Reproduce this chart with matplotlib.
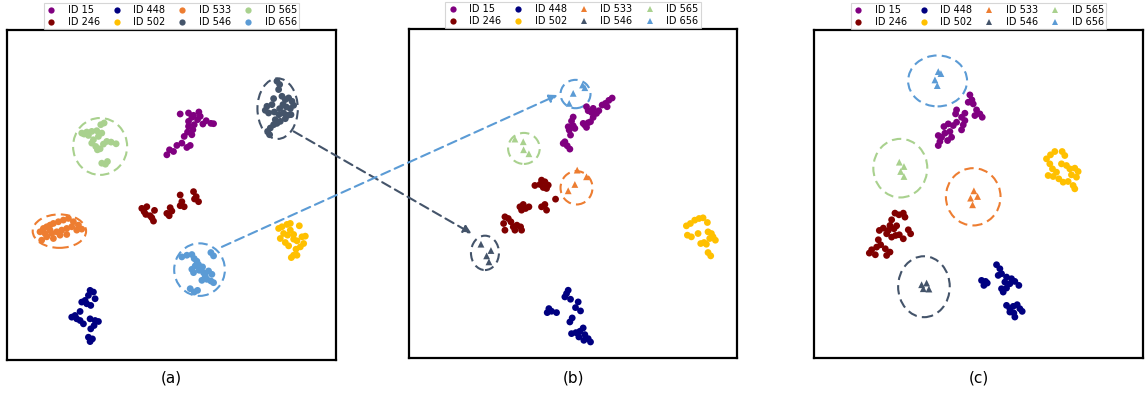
import numpy as np
import matplotlib
matplotlib.use("Agg")
import matplotlib.pyplot as plt
from matplotlib.patches import Ellipse, ConnectionPatch
from matplotlib.lines import Line2D

ids = ['ID 15', 'ID 246', 'ID 448', 'ID 502', 'ID 533', 'ID 546', 'ID 565', 'ID 656']
colors = {'ID 15': '#800080', 'ID 246': '#800000', 'ID 448': '#000080', 'ID 502': '#FFC000',
          'ID 533': '#ED7D31', 'ID 546': '#44546A', 'ID 565': '#A9D18E', 'ID 656': '#5B9BD5'}
# groups drawn as triangles in (b) and (c)
tri_ids = ['ID 533', 'ID 546', 'ID 565', 'ID 656']

# ---- panel (a) ----
a_15 = [(50.0,61.3),(50.8,62.8),(52.0,62.3),(53.0,64.1),(54.5,64.8),(56.0,63.5),(57.0,64.1),(55.2,66.8),
        (56.2,68.1),(57.5,67.3),(57.8,68.8),(56.5,69.8),(58.2,70.3),(56.5,71.3),(57.5,72.5),(59.2,71.8),
        (60.8,70.5),(61.8,71.5),(63.2,70.7),(64.0,70.6),(54.0,73.5),(56.5,73.8),(58.0,73.1),(59.6,74.1),(60.0,72.8)]
a_565 = [(24.5,67.8),(26.0,68.1),(27.5,68.3),(29.0,68.5),(30.2,70.3),(31.2,70.8),(30.5,67.8),(29.5,66.8),
         (28.0,65.8),(27.5,64.8),(28.7,63.8),(30.0,63.1),(31.0,64.5),(32.0,65.3),(33.3,65.1),(34.8,64.6),
         (29.2,62.8),(30.5,58.8),(31.6,58.5),(32.2,59.3),(26.5,67.1),(25.2,67.5)]
a_533 = [(12.0,38.3),(13.0,39.3),(14.0,39.8),(15.0,40.3),(16.0,40.8),(17.5,41.3),(19.0,41.8),(20.5,42.3),
         (22.0,41.3),(23.5,40.3),(24.5,39.1),(23.0,38.8),(21.5,39.8),(20.0,39.3),(18.5,38.8),(17.0,38.3),
         (15.5,37.8),(14.0,36.8),(12.5,35.8),(16.0,36.3),(18.0,37.3),(20.0,37.5),(13.5,37.8),(15.0,38.8)]
a_246 = [(42.5,45.3),(43.2,44.3),(44.0,45.8),(43.7,43.5),(45.0,43.1),(46.0,41.5),(45.5,42.5),(46.3,44.7),
         (50.0,43.8),(51.0,45.5),(50.7,43.1),(51.5,44.5),(54.0,46.1),(54.5,47.3),(55.2,45.8),(54.0,49.3),
         (58.0,50.3),(58.8,48.8),(59.5,47.3),(58.3,48.1)]
a_448 = [(27.0,20.8),(28.0,20.3),(26.5,19.3),(25.5,17.8),(24.5,17.3),(26.0,16.8),(27.2,16.3),(24.0,14.5),
         (22.5,13.3),(21.5,12.8),(23.0,12.3),(24.0,11.8),(25.0,10.8),(27.0,12.3),(28.5,11.8),(29.5,11.5),
         (28.2,10.3),(27.2,9.3),(26.5,6.8),(27.7,6.3),(27.0,5.5),(28.5,18.3)]
a_656 = [(54.5,30.8),(56.0,31.3),(57.5,31.5),(58.2,30.3),(59.0,29.5),(59.5,28.5),(58.5,28.1),(57.5,27.1),
         (58.0,26.1),(59.7,26.8),(60.7,27.8),(61.0,26.1),(61.5,25.1),(62.0,24.1),(63.2,23.6),(64.0,23.1),
         (63.5,25.6),(62.5,26.6),(63.2,32.1),(64.0,31.1),(57.0,21.3),(58.2,20.3),(59.2,20.8),(60.5,23.8)]
a_502 = [(83.5,39.3),(84.5,39.8),(86.0,40.5),(87.0,40.8),(89.7,40.1),(85.0,37.8),(84.0,36.3),(85.5,35.1),
         (86.5,34.1),(88.0,36.1),(89.0,35.6),(90.5,36.8),(91.5,37.0),(91.0,34.8),(90.0,33.8),(88.7,33.1),
         (88.0,31.3),(87.3,30.6),(89.0,31.3),(86.2,37.3),(87.0,38.8),(88.0,37.5)]
a_546 = [(83.0,83.3),(83.8,82.3),(83.5,80.8),(82.0,78.1),(84.5,78.8),(85.5,77.8),(86.5,78.3),(87.5,77.3),
         (88.0,76.1),(87.0,75.1),(85.8,75.6),(84.8,76.3),(83.8,75.1),(81.5,76.3),(80.0,75.8),(79.5,74.6),
         (80.5,73.8),(82.2,74.1),(83.6,73.3),(85.0,73.8),(86.2,73.1),(87.2,73.3),(85.5,72.1),(84.0,71.3),
         (83.0,70.7),(82.0,70.3),(81.0,69.3),(80.2,68.3),(80.8,67.3),(82.5,71.8)]
# dashed rings: group, center, width, height
a_rings = [('ID 565', (30.0,63.8), 16.2, 17.0), ('ID 533', (17.8,38.5), 16.0, 10.0),
           ('ID 656', (59.8,27.0), 15.2, 15.7), ('ID 546', (83.2,75.1), 12.1, 18.1)]

# ---- panel (b) ----
b_656 = [(50.5,79.3),(53.3,81.8),(54.0,81.0),(49.3,76.3)]
b_15 = [(47.5,64.3),(48.7,63.6),(49.5,62.6),(48.0,64.8),(49.7,66.8),(49.3,68.3),(50.5,69.6),(50.0,71.0),
        (49.0,69.3),(51.0,68.8),(50.5,72.2),(54.0,69.8),(55.0,70.5),(54.5,69.1),(55.7,70.8),(54.5,75.3),
        (55.0,74.1),(56.0,73.6),(56.5,74.8),(57.5,73.3),(58.2,74.1),(59.2,75.8),(60.2,76.3),(61.2,77.2),
        (62.2,77.9),(60.7,75.3),(56.5,72.1),(53.5,70.3)]
b_565 = [(33.0,65.6),(35.5,64.8),(35.6,62.4),(37.2,61.2)]
b_533 = [(51.7,56.3),(54.5,54.3),(51.0,52.0),(49.0,50.1)]
b_246 = [(39.0,51.7),(40.5,52.0),(41.0,53.3),(42.0,52.8),(43.0,51.8),(42.5,50.8),(41.5,51.1),(45.2,47.6),
         (34.5,45.3),(35.5,46.0),(36.2,44.8),(37.2,45.3),(35.0,44.3),(41.0,45.3),(42.0,46.0),(42.5,44.3),
         (30.0,42.3),(31.0,41.8),(29.6,40.3),(31.8,40.8),(32.5,39.3),(33.6,39.8),(34.7,39.3),(35.0,38.3),
         (33.0,38.3),(30.0,38.3)]
b_546 = [(22.8,34.1),(25.8,32.2),(24.5,30.6),(25.2,28.8)]
b_502 = [(84.5,39.6),(85.7,40.3),(87.0,41.3),(88.3,41.8),(89.5,42.0),(90.8,40.6),(84.8,36.8),(86.0,36.3),
         (88.0,37.3),(91.0,37.8),(92.0,37.3),(92.5,36.3),(93.2,35.3),(91.5,35.8),(89.8,34.6),(88.8,34.3),
         (90.5,34.1),(91.0,31.6),(91.8,30.6)]
b_448 = [(49.0,20.3),(48.5,19.3),(48.0,18.3),(49.7,17.6),(52.0,16.8),(51.2,15.1),(52.7,14.1),(50.2,12.0),
         (49.5,10.8),(43.2,14.8),(42.7,13.6),(44.0,14.0),(45.5,13.6),(50.0,7.3),(51.3,7.6),(52.5,8.0),
         (53.5,9.0),(54.0,7.0),(55.0,5.8),(55.7,4.8),(53.7,5.3),(52.2,6.3)]
b_rings = [('ID 656', (51.2,79.1), 9.0, 8.5), ('ID 565', (35.7,62.8), 9.5, 9.3),
           ('ID 533', (51.5,51.0), 9.6, 10.0), ('ID 546', (24.0,31.5), 8.4, 10.3)]

# ---- panel (c) ----
c_656 = [(38.5,86.0),(39.3,85.4),(37.5,83.5),(38.2,81.8)]
c_15 = [(48.0,79.0),(48.6,77.5),(47.5,76.8),(50.0,74.5),(51.0,73.3),(51.7,72.3),(49.5,72.8),(46.5,73.5),
        (45.5,72.3),(46.5,71.3),(46.0,70.0),(45.5,68.5),(44.0,74.5),(43.7,73.3),(44.0,70.8),(43.0,69.8),
        (41.5,70.3),(40.2,69.5),(38.5,66.8),(39.5,66.3),(40.5,67.5),(42.0,68.0),(42.5,66.3),(41.3,65.3),
        (38.5,63.8),(39.0,65.0),(49.0,76.3)]
c_565 = [(26.8,58.8),(28.2,57.5),(27.2,56.0),(28.2,54.5)]
c_533 = [(49.2,50.2),(50.3,48.5),(48.2,48.0),(48.8,46.0)]
c_502 = [(71.0,59.8),(72.2,61.0),(73.5,62.0),(75.7,62.0),(76.5,60.8),(72.0,58.3),(72.8,56.8),(74.0,55.8),
         (75.5,58.3),(77.0,57.8),(78.0,56.8),(79.5,57.0),(80.5,56.0),(71.5,54.8),(73.0,54.5),(74.7,53.8),
         (76.0,52.8),(77.5,53.0),(79.0,51.8),(79.5,50.8),(80.0,54.3),(78.5,55.0)]
c_246 = [(25.5,43.5),(26.7,43.0),(28.0,43.5),(28.5,42.3),(24.5,41.5),(24.0,39.8),(25.2,38.8),(26.0,39.7),
         (23.5,38.3),(22.0,39.0),(20.8,38.3),(23.0,37.3),(24.5,36.3),(25.7,36.8),(26.8,37.0),(28.0,35.8),
         (29.5,38.5),(30.2,37.3),(20.5,35.5),(21.2,34.0),(20.0,33.3),(18.5,32.5),(17.8,31.5),(19.6,31.0),
         (22.6,32.8),(24.0,31.8),(23.0,30.8)]
c_546 = [(33.5,22.0),(35.0,22.5),(34.0,20.8),(35.7,20.7)]
c_448 = [(56.0,28.0),(57.0,26.8),(57.5,25.3),(56.5,24.8),(51.5,23.3),(52.7,23.0),(52.2,21.8),(53.2,22.5),
         (59.0,24.3),(60.5,23.8),(61.5,23.0),(62.7,21.8),(60.0,22.3),(59.0,21.0),(58.0,19.8),(57.5,20.8),
         (59.0,15.8),(60.0,14.8),(61.0,15.5),(62.2,16.0),(63.0,14.8),(63.7,14.0),(61.2,13.5),(60.0,13.8),
         (61.5,12.3),(58.5,22.8)]
c_rings = [('ID 656', (38.3,83.2), 17.7, 15.3), ('ID 565', (27.1,57.0), 16.2, 17.6),
           ('ID 533', (49.0,48.4), 16.4, 17.2), ('ID 546', (34.2,21.4), 15.5, 18.3)]

panels = [
    {'ID 15': a_15, 'ID 246': a_246, 'ID 448': a_448, 'ID 502': a_502,
     'ID 533': a_533, 'ID 546': a_546, 'ID 565': a_565, 'ID 656': a_656},
    {'ID 15': b_15, 'ID 246': b_246, 'ID 448': b_448, 'ID 502': b_502,
     'ID 533': b_533, 'ID 546': b_546, 'ID 565': b_565, 'ID 656': b_656},
    {'ID 15': c_15, 'ID 246': c_246, 'ID 448': c_448, 'ID 502': c_502,
     'ID 533': c_533, 'ID 546': c_546, 'ID 565': c_565, 'ID 656': c_656},
]
rings = [a_rings, b_rings, c_rings]
panel_labels = ['(a)', '(b)', '(c)']

# arrows from (a) to (b): group, start in (a), end in (b)
arrows = [('ID 546', (88.0,68.3), (20.0,37.3)), ('ID 656', (66.5,33.8), (45.8,78.8))]

fig = plt.figure(figsize=(11.48, 3.93), dpi=100)
boxes = [[0.0061, 0.084, 0.2866, 0.8397],
         [0.3563, 0.0891, 0.2857, 0.8372],
         [0.7091, 0.0891, 0.2866, 0.8346]]
limits = [((2.1, 100.7), (0, 98.6)), ((1.2, 99.7), (0, 98.6)), ((1.2, 100.0), (0, 98.5))]

axes = []
for i, data in enumerate(panels):
    ax = fig.add_axes(boxes[i])
    for gid in ids:
        pts = np.array(data[gid])
        tri = i > 0 and gid in tri_ids
        ax.scatter(pts[:, 0], pts[:, 1], s=24, marker='^' if tri else 'o',
                   color=colors[gid], edgecolors='none', zorder=3)
    for gid, c, w, h in rings[i]:
        ax.add_patch(Ellipse(c, w, h, fill=False, edgecolor=colors[gid], lw=1.5,
                             linestyle=(0, (4.5, 2.5)), zorder=2))
    ax.set_xlim(*limits[i][0])
    ax.set_ylim(*limits[i][1])
    ax.set_xticks([])
    ax.set_yticks([])
    for sp in ax.spines.values():
        sp.set_linewidth(1.6)
        sp.set_color('black')

    # legend above each panel
    handles = []
    for gid in ids:
        m = '^' if (i > 0 and gid in tri_ids) else 'o'
        handles.append(Line2D([], [], linestyle='none', marker=m, markersize=4.5,
                              color=colors[gid], markeredgewidth=0))
    leg = ax.legend(handles, ids, ncol=4, loc='lower center', bbox_to_anchor=(0.5, 1.0),
                    borderaxespad=0.05, fontsize=7, frameon=True, fancybox=False,
                    columnspacing=1.25, handletextpad=1.2, borderpad=0.25, labelspacing=0.2,
                    handlelength=1.0)
    leg.get_frame().set_edgecolor('#cccccc')
    leg.get_frame().set_linewidth(0.8)

    fig.text(boxes[i][0] + boxes[i][2] / 2, 0.038, panel_labels[i], ha='center', va='center',
             fontsize=11)
    axes.append(ax)

# dashed arrows crossing from (a) into (b)
for gid, p0, p1 in arrows:
    con = ConnectionPatch(xyA=p0, coordsA=axes[0].transData, xyB=p1, coordsB=axes[1].transData,
                          arrowstyle='-|>', mutation_scale=12, color=colors[gid], lw=1.5,
                          linestyle=(0, (4.5, 2.5)), zorder=5)
    fig.add_artist(con)

plt.savefig('out.png', dpi=100)
